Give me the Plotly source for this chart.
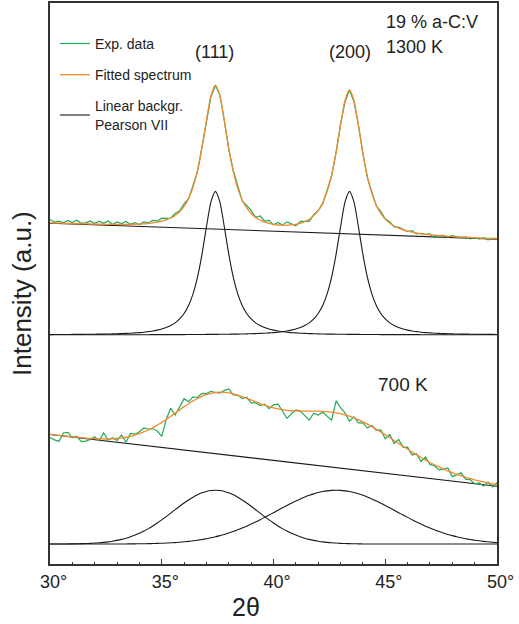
import numpy as np
import plotly.graph_objects as go

# 2-theta scan grid (degrees)
TWO_THETA = np.round(np.arange(30.0, 50.0001, 0.2), 1)

# ---------------- 1300 K (upper spectrum) ----------------
EXP_1300K = [
    345.8, 343.2, 344.1, 342.4, 344.8, 342.7, 345.0, 341.9, 342.3, 344.2,
    341.6, 344.0, 341.9, 344.3, 340.8, 343.3, 341.7, 343.8, 340.8, 342.5,
    340.6, 343.3, 342.3, 344.8, 344.1, 347.0, 346.8, 347.2, 351.7, 354.5,
    361.3, 366.7, 379.8, 393.8, 418.6, 445.1, 468.5, 480.5, 470.8, 445.1,
    415.9, 394.9, 379.1, 364.3, 359.8, 354.8, 347.8, 349.2, 344.2, 344.9,
    340.4, 342.7, 340.1, 343.4, 341.3, 339.4, 343.9, 344.1, 343.9, 350.6,
    354.7, 361.4, 374.4, 389.4, 413.1, 441.4, 463.8, 475.7, 463.9, 440.7,
    412.3, 387.7, 373.4, 359.5, 353.8, 346.1, 343.5, 338.2, 338.0, 335.4,
    333.6, 334.5, 331.2, 331.9, 330.9, 331.4, 327.4, 329.6, 329.7, 328.0,
    329.6, 328.3, 327.6, 328.4, 326.2, 327.4, 326.2, 327.5, 325.3, 326.7,
    326.9]
FIT_1300K = [
    342.3, 342.2, 342.1, 341.9, 341.8, 341.7, 341.5, 341.4, 341.3, 341.2,
    341.1, 341.0, 340.9, 340.8, 340.8, 340.8, 340.7, 340.8, 340.8, 341.0,
    341.1, 341.3, 341.8, 342.3, 343.1, 344.0, 345.3, 347.2, 349.7, 353.5,
    358.8, 366.7, 378.3, 394.8, 417.6, 445.1, 470.0, 480.5, 469.8, 444.6,
    416.9, 393.9, 377.1, 365.3, 357.3, 351.8, 347.8, 345.2, 343.2, 341.9,
    340.9, 340.2, 340.1, 339.9, 340.3, 340.9, 341.9, 343.6, 345.9, 349.6,
    354.7, 362.4, 373.9, 390.4, 413.1, 440.4, 465.3, 475.7, 464.9, 439.7,
    411.8, 388.7, 371.9, 360.0, 351.8, 346.1, 342.0, 339.2, 337.0, 335.4,
    334.1, 333.0, 332.2, 331.4, 330.9, 330.4, 329.9, 329.6, 329.2, 329.0,
    328.6, 328.3, 328.1, 327.9, 327.7, 327.4, 327.2, 327.0, 326.8, 326.7,
    326.4]
BG_X = [30.0, 50.0]
BG_1300K = [342.0, 326.0]
PV111_1300K = [
    0.2, 0.3, 0.3, 0.3, 0.3, 0.4, 0.4, 0.4, 0.5, 0.5,
    0.6, 0.7, 0.7, 0.8, 0.9, 1.1, 1.2, 1.4, 1.6, 1.9,
    2.2, 2.6, 3.2, 3.8, 4.7, 5.8, 7.3, 9.3, 12.0, 15.9,
    21.4, 29.4, 41.1, 57.8, 80.7, 108.3, 133.4, 144.0, 133.4, 108.3,
    80.7, 57.8, 41.1, 29.4, 21.4, 15.9, 12.0, 9.3, 7.3, 5.8,
    4.7, 3.8, 3.2, 2.6, 2.2, 1.9, 1.6, 1.4, 1.2, 1.1,
    0.9, 0.8, 0.7, 0.7, 0.6, 0.5, 0.5, 0.4, 0.4, 0.4,
    0.3, 0.3, 0.3, 0.3, 0.2, 0.2, 0.2, 0.2, 0.2, 0.2,
    0.2, 0.2, 0.2, 0.1, 0.1, 0.1, 0.1, 0.1, 0.1, 0.1,
    0.1, 0.1, 0.1, 0.1, 0.1, 0.1, 0.1, 0.1, 0.1, 0.1,
    0.1]
PV200_1300K = [
    0.1, 0.1, 0.1, 0.1, 0.1, 0.1, 0.1, 0.1, 0.1, 0.1,
    0.1, 0.1, 0.1, 0.1, 0.1, 0.1, 0.1, 0.1, 0.1, 0.1,
    0.1, 0.1, 0.1, 0.2, 0.2, 0.2, 0.2, 0.2, 0.2, 0.2,
    0.2, 0.3, 0.3, 0.3, 0.3, 0.4, 0.4, 0.4, 0.5, 0.5,
    0.6, 0.7, 0.7, 0.8, 0.9, 1.1, 1.2, 1.4, 1.6, 1.9,
    2.2, 2.6, 3.2, 3.8, 4.7, 5.8, 7.3, 9.3, 12.0, 15.9,
    21.4, 29.4, 41.1, 57.8, 80.7, 108.3, 133.4, 144.0, 133.4, 108.3,
    80.7, 57.8, 41.1, 29.4, 21.4, 15.9, 12.0, 9.3, 7.3, 5.8,
    4.7, 3.8, 3.2, 2.6, 2.2, 1.9, 1.6, 1.4, 1.2, 1.1,
    0.9, 0.8, 0.7, 0.7, 0.6, 0.5, 0.5, 0.4, 0.4, 0.4,
    0.3]

# ---------------- 700 K (lower spectrum) ----------------
EXP_700K = [
    127.0, 124.5, 123.0, 131.5, 132.0, 126.6, 128.2, 122.8, 123.3, 125.0,
    127.8, 123.6, 131.5, 124.4, 126.7, 124.0, 129.5, 122.2, 131.1, 130.3,
    132.8, 136.5, 135.5, 135.7, 133.4, 128.1, 145.1, 156.3, 149.4, 157.7,
    165.9, 162.8, 167.7, 167.1, 171.3, 171.0, 173.3, 172.1, 171.4, 174.2,
    175.7, 169.8, 169.5, 165.9, 167.3, 161.6, 161.8, 159.0, 160.4, 155.9,
    159.7, 160.7, 152.9, 146.2, 150.8, 154.6, 153.5, 148.5, 144.4, 151.4,
    149.4, 152.2, 147.9, 144.4, 163.7, 156.8, 151.6, 143.3, 147.6, 141.7,
    141.6, 136.4, 138.9, 134.2, 134.5, 125.7, 129.9, 121.0, 124.9, 117.0,
    117.2, 109.3, 110.6, 102.9, 107.3, 99.9, 98.6, 94.5, 95.3, 96.4,
    87.7, 90.0, 91.5, 85.0, 84.7, 80.5, 81.4, 78.3, 82.3, 77.4,
    81.5]
FIT_700K = [
    130.0, 129.5, 129.0, 128.5, 128.0, 127.6, 127.2, 126.8, 126.3, 126.0,
    125.8, 125.6, 125.5, 125.4, 125.7, 126.0, 126.5, 127.2, 128.1, 129.3,
    130.8, 132.5, 134.5, 136.7, 139.4, 142.1, 145.1, 148.3, 151.4, 154.7,
    157.9, 160.8, 163.7, 166.1, 168.3, 170.0, 171.3, 172.1, 172.4, 172.2,
    171.7, 170.8, 169.5, 167.9, 166.3, 164.6, 162.8, 161.0, 159.4, 157.9,
    156.7, 155.7, 154.9, 154.2, 153.8, 153.6, 153.5, 153.5, 153.4, 153.4,
    153.4, 153.2, 152.9, 152.4, 151.7, 150.8, 149.6, 148.3, 146.6, 144.7,
    142.6, 140.4, 137.9, 135.2, 132.5, 129.7, 126.9, 124.0, 120.9, 118.0,
    115.2, 112.3, 109.6, 106.9, 104.3, 101.9, 99.6, 97.5, 95.3, 93.4,
    91.7, 90.0, 88.5, 87.0, 85.7, 84.5, 83.4, 82.3, 81.3, 80.4,
    79.5]
BG_700K = [130.0, 78.0]
PV111_700K = [
    0.0, 0.0, 0.0, 0.1, 0.1, 0.2, 0.3, 0.4, 0.5, 0.7,
    1.0, 1.3, 1.7, 2.2, 2.9, 3.7, 4.7, 5.9, 7.3, 9.0,
    10.9, 13.1, 15.5, 18.2, 21.2, 24.3, 27.6, 31.0, 34.5, 37.9,
    41.2, 44.2, 47.0, 49.4, 51.4, 52.8, 53.7, 54.0, 53.7, 52.8,
    51.4, 49.4, 47.0, 44.2, 41.2, 37.9, 34.5, 31.0, 27.6, 24.3,
    21.2, 18.2, 15.5, 13.1, 10.9, 9.0, 7.3, 5.9, 4.7, 3.7,
    2.9, 2.2, 1.7, 1.3, 1.0, 0.7, 0.5, 0.4, 0.3, 0.2,
    0.1, 0.1, 0.0, 0.0, 0.0, 0.0, 0.0, 0.0, 0.0, 0.0,
    0.0, 0.0, 0.0, 0.0, 0.0, 0.0, 0.0, 0.0, 0.0, 0.0,
    0.0, 0.0, 0.0, 0.0, 0.0, 0.0, 0.0, 0.0, 0.0, 0.0,
    0.0]
PV200_700K = [
    0.0, 0.0, 0.0, 0.0, 0.0, 0.0, 0.0, 0.0, 0.0, 0.0,
    0.0, 0.0, 0.0, 0.0, 0.1, 0.1, 0.1, 0.1, 0.2, 0.2,
    0.3, 0.3, 0.4, 0.5, 0.7, 0.8, 1.0, 1.3, 1.5, 1.9,
    2.3, 2.7, 3.3, 3.9, 4.6, 5.4, 6.3, 7.3, 8.5, 9.7,
    11.1, 12.7, 14.3, 16.1, 18.0, 20.1, 22.2, 24.4, 26.8, 29.1,
    31.5, 34.0, 36.4, 38.7, 41.0, 43.2, 45.3, 47.2, 48.9, 50.4,
    51.7, 52.7, 53.4, 53.9, 54.0, 53.9, 53.4, 52.7, 51.7, 50.4,
    48.9, 47.2, 45.3, 43.2, 41.0, 38.7, 36.4, 34.0, 31.5, 29.1,
    26.8, 24.4, 22.2, 20.1, 18.0, 16.1, 14.3, 12.7, 11.1, 9.7,
    8.5, 7.3, 6.3, 5.4, 4.6, 3.9, 3.3, 2.7, 2.3, 1.9,
    1.5]

TICK_VALS = [30, 35, 40, 45, 50]
TICK_LABELS = ["30", "35", "40", "45", "50"]

# display offsets of the separated Pearson VII components
OFFSET_1300K = 230.0
OFFSET_700K = 20.0

GREEN = "#22aa58"
ORANGE = "#f28a2e"
BLACK = "#1a1a1a"
FONT = "Liberation Sans, Arial, sans-serif"

fig = go.Figure()

def add(x, y, color, width, name=None, show=False, group=None, shape="linear"):
    fig.add_trace(go.Scatter(
        x=x, y=y, mode="lines", name=name, showlegend=show, legendgroup=group,
        line=dict(color=color, width=width, shape=shape, smoothing=0.6 if shape == "spline" else None),
        hoverinfo="skip"))

# component curves (black)
add(BG_X, BG_1300K, BLACK, 1.1, name="Linear backgr.<br>Pearson VII", show=True, group="c")
add(TWO_THETA, np.array(PV111_1300K) + OFFSET_1300K, BLACK, 1.1, group="c", shape="spline")
add(TWO_THETA, np.array(PV200_1300K) + OFFSET_1300K, BLACK, 1.1, group="c", shape="spline")
add(BG_X, BG_700K, BLACK, 1.1, group="c")
add(TWO_THETA, np.array(PV111_700K) + OFFSET_700K, BLACK, 1.1, group="c", shape="spline")
add(TWO_THETA, np.array(PV200_700K) + OFFSET_700K, BLACK, 1.1, group="c", shape="spline")

# experimental data (green)
add(TWO_THETA, EXP_1300K, GREEN, 1.2, name="Exp. data", show=True, group="a")
add(TWO_THETA, EXP_700K, GREEN, 1.2, group="a")
# fitted spectra (orange)
add(TWO_THETA, FIT_1300K, ORANGE, 1.3, name="Fitted spectrum", show=True, group="b", shape="spline")
add(TWO_THETA, FIT_700K, ORANGE, 1.3, group="b", shape="spline")

ann_font = dict(family=FONT, size=18, color="#222")
annotations = [
    dict(x=37.35, y=514, text="(111)", showarrow=False, xanchor="center", yanchor="middle", font=ann_font),
    dict(x=43.42, y=514, text="(200)", showarrow=False, xanchor="center", yanchor="middle", font=ann_font),
    dict(x=44.95, y=544, text="19 % a-C:V", showarrow=False, xanchor="left", yanchor="middle", font=ann_font),
    dict(x=44.95, y=519, text="1300 K", showarrow=False, xanchor="left", yanchor="middle", font=ann_font),
    dict(x=44.6, y=180, text="700 K", showarrow=False, xanchor="left", yanchor="middle",
         font=dict(family=FONT, size=19, color="#222")),
    dict(xref="paper", yref="paper", x=(22 - 50) / 447, y=(564 - 293) / 563, text="Intensity (a.u.)",
         textangle=-90, showarrow=False, xanchor="center", yanchor="middle",
         font=dict(family=FONT, size=26, color="#222")),
    dict(xref="paper", yref="paper", x=(246 - 50) / 447, y=(564 - 607) / 563, text="2θ",
         showarrow=False, xanchor="center", yanchor="middle",
         font=dict(family=FONT, size=25, color="#222")),
]

# tick labels: number centred on the tick, degree sign to its right
tick_text = ["<span style='color:rgba(0,0,0,0)'>°</span>" + t + "°" for t in TICK_LABELS]

fig.update_layout(
    width=519, height=624,
    margin=dict(l=50, r=22, t=1, b=60),
    paper_bgcolor="white", plot_bgcolor="white",
    font=dict(family=FONT, color="#222"),
    showlegend=True,
    legend=dict(x=0.011, y=1 - 25 / 563, xanchor="left", yanchor="top",
                bgcolor="rgba(0,0,0,0)", font=dict(family=FONT, size=14, color="#222"),
                traceorder="grouped", tracegroupgap=10, itemwidth=30),
    annotations=annotations,
    xaxis=dict(range=[30, 50], showgrid=False, zeroline=False,
               showline=True, mirror=True, linecolor="#333", linewidth=1.8,
               ticks="inside", ticklen=5, tickwidth=1, tickcolor="#333",
               tickvals=TICK_VALS, ticktext=tick_text,
               tickfont=dict(family=FONT, size=18, color="#222"),
               minor=dict(dtick=1, ticks="inside", ticklen=2.5, tickwidth=1, tickcolor="#333")),
    yaxis=dict(range=[0, 563], showgrid=False, zeroline=False, showticklabels=False,
               showline=True, mirror=True, linecolor="#333", linewidth=1.8, ticks=""),
)

# legend order: exp, fit, components
fig.data[6].legendrank = 1
fig.data[8].legendrank = 2
fig.data[0].legendrank = 3

fig.write_html("out.html")
